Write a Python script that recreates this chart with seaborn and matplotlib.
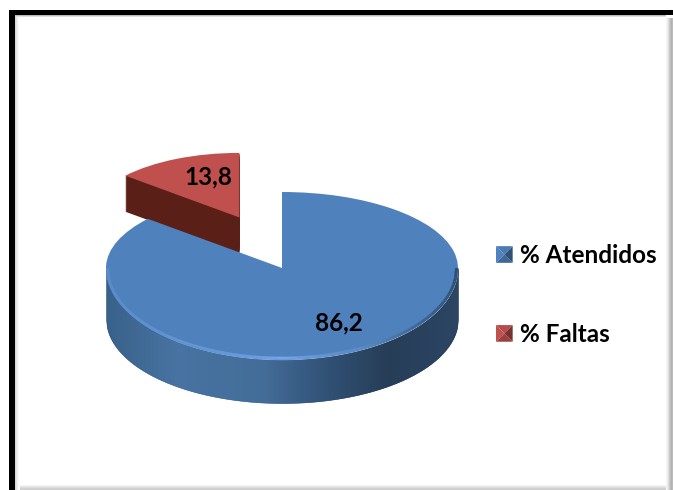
import numpy as np
import matplotlib
matplotlib.use('Agg')
import matplotlib.pyplot as plt
import seaborn as sns
from matplotlib.colors import LinearSegmentedColormap
from matplotlib.legend_handler import HandlerBase
from matplotlib.patches import Patch, Polygon, Rectangle

labels = ['% Atendidos', '% Faltas']
values = [86.2, 13.8]
value_text = ['86,2', '13,8']

sns.set_theme(style='white')
plt.rcParams['font.family'] = ['Lato', 'DejaVu Sans']

W, H = 673, 490
fig = plt.figure(figsize=(W / 100, H / 100), dpi=100, facecolor='white')
ax = fig.add_axes([0, 0, 1, 1])

BLUE = '#4f81bd'
RED = '#c0504d'
RED_SIDE = '#5a1f17'
RX = 176
APEX_X, APEX_Y = 282, 268
UP, DOWN = 76, 92  # back of the pie is squashed more than the front


def forward(y):
    y = np.asarray(y, dtype=float)
    return np.where(y > 0, y * UP, y * DOWN)


def inverse(v):
    v = np.asarray(v, dtype=float)
    return np.where(v > 0, v / UP, v / DOWN)


def one_slice(idx, color, radius=1.0, center=(0, 0), explode=0.0):
    # pie of both values, only the slice idx stays visible
    ex = [0, 0]
    ex[idx] = explode
    wedges, _ = ax.pie(values, startangle=90, counterclock=False, radius=radius,
                       center=center, explode=ex, colors=[color, color],
                       wedgeprops={'linewidth': 0})
    wedges[1 - idx].set_visible(False)
    return wedges[idx]


# red slice, pulled out and further back, side first
for d in np.arange(36, 0, -1):
    one_slice(1, RED_SIDE, radius=0.85, center=(0.01, 0.12 - d / UP), explode=0.6)
one_slice(1, RED, radius=0.85, center=(0.01, 0.12), explode=0.6)

# rim of the blue slice
rim_cmap = LinearSegmentedColormap.from_list('rim', [
    (0.0, '#2f5a85'), (0.2, '#3f6d9e'), (0.45, '#3a6594'),
    (0.62, '#274a70'), (0.8, '#1c3450'), (1.0, '#213c5c')])
xs = np.linspace(-1, 1, 353)
top_edge = -np.sqrt(1 - xs ** 2)
low_edge = -(51 + 84 * np.sqrt(1 - xs ** 2)) / DOWN
for i in range(len(xs) - 1):
    c = rim_cmap((xs[i] + 1) / 2)
    ax.fill_between(xs[i:i + 2], top_edge[i:i + 2], low_edge[i:i + 2],
                    color=c, linewidth=0.4, zorder=2)

one_slice(0, BLUE).set_zorder(3)

# bevel along the front of the top face
bevel_cmap = LinearSegmentedColormap.from_list('bevel', [
    (0.0, '#5c8ccb'), (0.3, '#6b9de0'), (0.5, '#74a6ec'),
    (0.72, '#5f8ec7'), (0.9, '#3a628f'), (1.0, '#2f5074')])
for i in range(len(xs) - 1):
    ax.plot(xs[i:i + 2] * 0.992, top_edge[i:i + 2] * 0.98, color=bevel_cmap((xs[i] + 1) / 2),
            linewidth=2.2, solid_capstyle='butt', zorder=4)

# pie() sets its own limits, so the pixel mapping comes after
ax.set_aspect('auto')
ax.set_yscale('function', functions=(forward, inverse))
ax.set_xlim(-APEX_X / RX, (W - APEX_X) / RX)
ax.set_ylim((APEX_Y - H) / DOWN, APEX_Y / UP)
ax.axis('off')


def px_x(x):
    return (x - APEX_X) / RX


def px_y(y):
    return float(inverse(APEX_Y - y))


ax.text(px_x(339), px_y(323), value_text[0], fontsize=17.5, fontweight='bold',
        color='black', ha='center', va='center', zorder=6)
ax.text(px_x(208), px_y(177), value_text[1], fontsize=17.5, fontweight='bold',
        color='black', ha='center', va='center', zorder=6)


# frame drawn in figure pixels: black top and left, soft grey right and bottom
def frame_rect(x, y, w, h, color):
    fig.add_artist(Rectangle((x / W, 1 - (y + h) / H), w / W, h / H, color=color,
                             linewidth=0, transform=fig.transFigure))


for i, c in enumerate(['#f6f6f6', '#ececec', '#dedede', '#cccccc', '#bdbdbd', '#b2b2b2', '#bbbbbb']):
    frame_rect(666 + i, 18, 1, 472, c)
for i, c in enumerate(['#f4f4f4', '#e8e8e8', '#dcdcdc', '#d2d2d2', '#cccccc']):
    frame_rect(20, 485 + i, 646, 1, c)
for i, c in enumerate(['#d8d8d8', '#e6e6e6', '#f0f0f0', '#f8f8f8']):
    frame_rect(15 + i, 15, 1, 475, c)
for i, c in enumerate(['#bbbbbb', '#e0e0e0']):
    frame_rect(15, 15 + i, 651, 1, c)
frame_rect(9, 10, 664, 5, 'black')
frame_rect(9, 10, 6, 480, 'black')


class PyramidHandler(HandlerBase):
    # small bevelled square like the office legend keys
    def create_artists(self, legend, orig, xd, yd, w, h, fontsize, trans):
        base = orig.get_facecolor()
        x0, y0 = -xd, -yd
        s = 12
        y0 = y0 + (h - s) / 2
        mid = (x0 + s / 2, y0 + s / 2)
        a, b, c, d = (x0, y0), (x0 + s, y0), (x0 + s, y0 + s), (x0, y0 + s)
        shades = [(0.8, (a, b)), (0.62, (b, c)), (0.95, (c, d)), (1.0, (d, a))]
        out = []
        for f, (p, q) in shades:
            col = tuple(np.array(base[:3]) * f)
            out.append(Polygon([p, q, mid], closed=True, facecolor=col, linewidth=0,
                               transform=trans))
        return out


handles = [Patch(facecolor=BLUE), Patch(facecolor=RED)]
leg = fig.legend(handles, labels, loc='upper left',
                 bbox_to_anchor=(496 / W, 1 - 244 / H),
                 bbox_transform=fig.transFigure, frameon=False,
                 prop={'size': 17.5, 'weight': 'bold'}, labelspacing=2.3,
                 handlelength=0.7, handleheight=0.7, handletextpad=0.3,
                 borderpad=0, borderaxespad=0, labelcolor='black',
                 handler_map={Patch: PyramidHandler()})

fig.savefig('out.png', dpi=100, facecolor='white')
